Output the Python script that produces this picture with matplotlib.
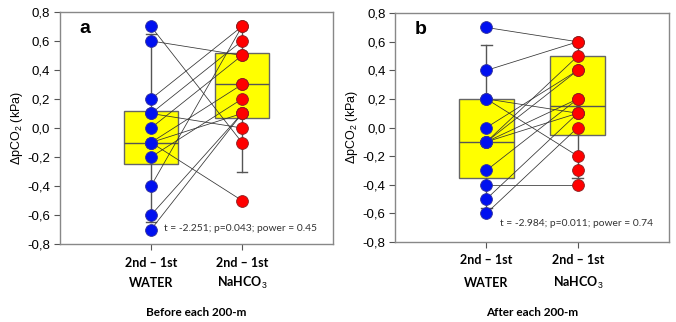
import matplotlib
matplotlib.use("Agg")
import matplotlib.pyplot as plt
import matplotlib.transforms as mtransforms

plt.rcParams["font.family"] = ["Liberation Sans", "DejaVu Sans"]
plt.rcParams["mathtext.fontset"] = "custom"
plt.rcParams["mathtext.rm"] = "Liberation Sans"
plt.rcParams["mathtext.it"] = "Liberation Sans"

# paired differences (2nd - 1st), each pair = one swimmer
before_water = [0.6, 0.7, 0.2, 0.1, 0.1, 0.0, -0.1, -0.1, -0.2, -0.4, -0.6, -0.7, -0.1]
before_nahco3 = [0.5, -0.1, 0.7, 0.0, 0.6, 0.5, -0.5, 0.3, 0.2, 0.7, 0.1, 0.1, 0.1]
after_water = [0.7, 0.4, 0.2, 0.2, 0.0, -0.1, -0.1, -0.1, -0.3, -0.4, -0.5, -0.6, -0.1]
after_nahco3 = [0.6, 0.6, 0.1, -0.2, 0.4, 0.5, 0.4, 0.1, 0.2, -0.4, 0.1, 0.0, 0.2]
# unpaired extra points seen in the panels
before_extra_nahco3 = [0.3]
after_extra_nahco3 = [-0.3]

# box stats (q1, median, q3, 10th pct, 90th pct)
before_boxes = [(-0.25, -0.10, 0.12, -0.65, 0.65), (0.07, 0.30, 0.52, -0.30, 0.70)]
after_boxes = [(-0.35, -0.10, 0.20, -0.56, 0.58), (-0.05, 0.15, 0.50, -0.35, 0.60)]

stats_text = ["t = -2.251; p=0.043; power = 0.45", "t = -2.984; p=0.011; power = 0.74"]
panel_tags = ["a", "b"]
captions = ["Before each 200-m", "After each 200-m"]
groups = ["WATER", r"NaHCO$_3$"]

fig = plt.figure(figsize=(6.76, 3.22), dpi=100)
ax_a = fig.add_axes([0.0888, 0.242, 0.4038, 0.721])
ax_b = fig.add_axes([0.5845, 0.249, 0.4053, 0.710])

panels = [
    (ax_a, before_water, before_nahco3, before_extra_nahco3, before_boxes),
    (ax_b, after_water, after_nahco3, after_extra_nahco3, after_boxes),
]

for i, (ax, water, soda, extra, boxes) in enumerate(panels):
    bstats = []
    for q1, med, q3, lo, hi in boxes:
        bstats.append({"q1": q1, "med": med, "q3": q3, "whislo": lo, "whishi": hi, "fliers": []})
    ax.bxp(bstats, positions=[1, 2], widths=0.6, patch_artist=True, showfliers=False,
           capwidths=0.12,
           boxprops=dict(facecolor="#ffff00", edgecolor="#666666", linewidth=1.0),
           medianprops=dict(color="#555555", linewidth=1.0),
           whiskerprops=dict(color="#555555", linewidth=1.0),
           capprops=dict(color="#555555", linewidth=1.0), zorder=1)

    for w, s in zip(water, soda):
        ax.plot([1, 2], [w, s], color="#333333", linewidth=0.55, zorder=2)

    ax.plot([1] * len(water), water, "o", color="#0010f0", markeredgecolor="#333399",
            markersize=8.5, markeredgewidth=0.6, zorder=3)
    ax.plot([2] * (len(soda) + len(extra)), soda + extra, "o", color="#ff0000",
            markeredgecolor="#882222", markersize=8.5, markeredgewidth=0.6, zorder=3)

    ax.set_xlim(0, 3)
    ax.set_ylim(-0.8, 0.8)
    yt = [-0.8 + 0.2 * k for k in range(9)]
    ax.set_yticks(yt)
    ax.set_yticklabels([f"{v:.1f}".replace(".", ",").replace("-0,0", "0,0") for v in yt], fontsize=9.5)
    ax.set_xticks([1, 2])
    ax.set_xticklabels(["2nd – 1st", "2nd – 1st"], fontsize=9, fontweight="bold", family="Lato")
    ax.tick_params(axis="both", direction="out", length=4, color="#555555", pad=3)
    ax.tick_params(axis="x", pad=5)
    for sp in ax.spines.values():
        sp.set_color("#888888")
        sp.set_linewidth(1.0)
    ax.set_ylabel(r"$\Delta$pCO$_2$ (kPa)", fontsize=9, labelpad=2)

    trans = mtransforms.blended_transform_factory(ax.transData, ax.transAxes)
    y_grp = -0.168 if i == 0 else -0.179
    y_cap = -0.293 if i == 0 else -0.31
    for x, g in zip([1, 2], groups):
        ax.text(x, y_grp, g, transform=trans, ha="center", va="center", fontsize=9,
                fontweight="bold", family="Lato")
    ax.text(1.5, y_cap, captions[i], transform=trans, ha="center", va="center",
            fontsize=8.5, fontweight="bold", family="Lato")

    ax.text(0.07, 0.93, panel_tags[i], transform=ax.transAxes, fontsize=14,
            fontweight="bold", ha="left", va="center")
    ax.text(0.943, 0.069 if i == 0 else 0.079, stats_text[i], transform=ax.transAxes,
            ha="right", va="center", fontsize=7.4, family="Lato", color="#333333")

fig.savefig("out.png", dpi=100)
